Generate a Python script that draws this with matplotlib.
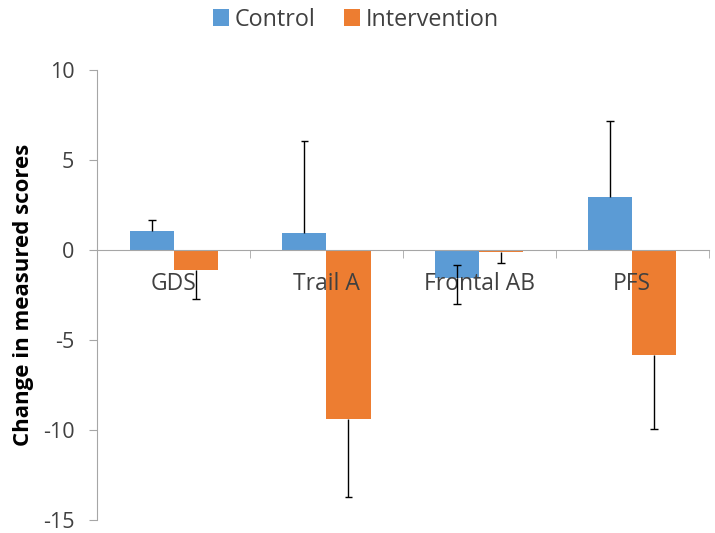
import numpy as np
import matplotlib
matplotlib.use("Agg")
import matplotlib.pyplot as plt

categories = ["GDS", "Trail A", "Frontal AB", "PFS"]
control = [1.05, 0.91, -1.55, 2.91]
intervention = [-1.13, -9.37, -0.10, -5.83]
# error bar lengths (below, above) the bar end
control_err_low = [0.0, 0.0, 1.45, 0.0]
control_err_high = [0.62, 5.15, 0.72, 4.22]
interv_err_low = [1.61, 4.33, 0.64, 4.10]
interv_err_high = [0.0, 0.0, 0.0, 0.0]

blue = "#5B9BD5"
orange = "#ED7D31"
axis_grey = "#A6A6A6"
text_col = "#404040"

plt.rcParams['font.family'] = ['Open Sans', 'DejaVu Sans']
plt.rcParams['axes.unicode_minus'] = False

fig = plt.figure(figsize=(7.15, 5.33), dpi=100)
ax = fig.add_axes([0.136, 0.0244, 0.855, 0.845])
ax.set_axisbelow(False)

x = np.arange(len(categories))
w = 0.288
ax.bar(x - w / 2, control, w, color=blue, label="Control", zorder=2)
ax.bar(x + w / 2, intervention, w, color=orange, label="Intervention", zorder=2)


def draw_err(xs, ys, low, high):
    cap = 0.026
    for xi, yi, lo, hi in zip(xs, ys, low, high):
        for end in (yi - lo, yi + hi):
            if end != yi:
                ax.vlines(xi, yi, end, color="black", linewidth=1, zorder=3)
                ax.hlines(end, xi - cap, xi + cap, color="black", linewidth=1, zorder=3)


draw_err(x - w / 2, control, control_err_low, control_err_high)
draw_err(x + w / 2, intervention, interv_err_low, interv_err_high)

ax.set_xlim(-0.5, len(categories) - 0.5)
ax.set_ylim(-15, 10)
ax.set_yticks([-15, -10, -5, 0, 5, 10])

for s in ["top", "right"]:
    ax.spines[s].set_visible(False)
ax.spines["left"].set_color(axis_grey)
ax.spines["bottom"].set_color(axis_grey)
ax.spines["bottom"].set_position(("data", 0))

ax.tick_params(axis="y", direction="out", length=6, color=axis_grey,
               labelsize=15.5, labelcolor=text_col, pad=10.5)
ax.set_xticks(x)
ax.set_xticklabels(categories)
ax.set_xticks(np.arange(len(categories) + 1) - 0.5, minor=True)
ax.tick_params(axis="x", which="major", length=0, labelsize=16.5,
               labelcolor=text_col, pad=16)
ax.tick_params(axis="x", which="minor", direction="out", length=6, color=axis_grey)

ax.set_ylabel("Change in measured scores", fontsize=16, fontweight="bold",
              color="black", labelpad=6)

fig.legend(loc="upper center", bbox_to_anchor=(0.498, 1.025), ncol=2, frameon=False,
           fontsize=16.8, handlelength=0.7, handleheight=0.7, handletextpad=0.25,
           columnspacing=1.2, labelcolor=text_col)

fig.savefig("out.png", dpi=100)
